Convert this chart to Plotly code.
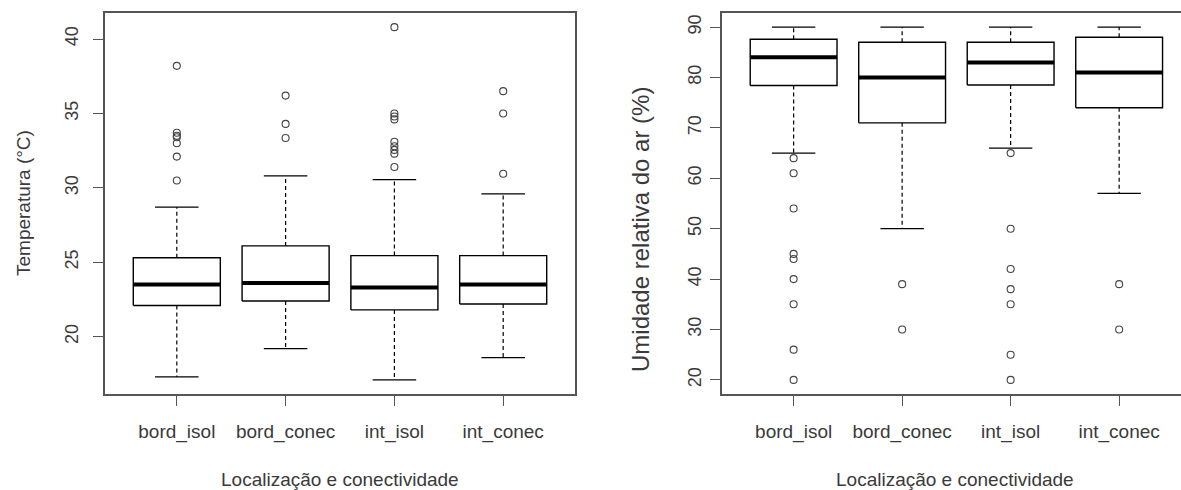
import plotly.graph_objects as go

# ---------------- data ----------------
categories = ["bord_isol", "bord_conec", "int_isol", "int_conec"]

temp_lower = [17.3, 19.2, 17.1, 18.6]
temp_q1 = [22.1, 22.4, 21.8, 22.2]
temp_median = [23.5, 23.6, 23.3, 23.5]
temp_q3 = [25.3, 26.1, 25.45, 25.45]
temp_upper = [28.7, 30.8, 30.55, 29.6]
temp_outliers = [
    [38.2, 33.7, 33.5, 33.4, 33.0, 32.1, 30.5],
    [36.2, 34.3, 33.35],
    [40.8, 35.0, 34.8, 34.6, 33.1, 32.8, 32.55, 32.3, 31.4],
    [36.5, 35.0, 30.95],
]

hum_lower = [65, 50, 66, 57]
hum_q1 = [78.4, 71, 78.5, 74]
hum_median = [84, 80, 83, 81]
hum_q3 = [87.6, 87, 87, 88]
hum_upper = [90, 90, 90, 90]
hum_outliers = [
    [64, 61, 54, 45, 44, 40, 35, 26, 20],
    [39, 30],
    [65, 50, 42, 38, 35, 25, 20],
    [39, 30],
]

temp_ticks = [20, 25, 30, 35, 40]
hum_ticks = [20, 30, 40, 50, 60, 70, 80, 90]

temp_title = "Temperatura (°C)"
hum_title = "Umidade relativa do ar (%)"
x_title = "Localização e conectividade"

# ---------------- styling ----------------
W, H = 1181, 490
FONT = "Liberation Sans, Arial, sans-serif"
TXT = "#3a3a3a"
HALF = 0.4      # half box width (R default 0.8 width)
STAPLE = 0.2    # half staple width

fig = go.Figure()


def add_panel(xref, yref, lower, q1, med, q3, upper, outs):
    for i in range(len(categories)):
        x = i + 1
        # whiskers (dashed)
        fig.add_trace(go.Scatter(
            x=[x, x, None, x, x], y=[q3[i], upper[i], None, q1[i], lower[i]],
            mode="lines", line=dict(color="black", width=1.2, dash="4px,3px"),
            xaxis=xref, yaxis=yref, showlegend=False, hoverinfo="skip"))
        # staples
        fig.add_trace(go.Scatter(
            x=[x - STAPLE, x + STAPLE, None, x - STAPLE, x + STAPLE],
            y=[upper[i], upper[i], None, lower[i], lower[i]],
            mode="lines", line=dict(color="black", width=1.3),
            xaxis=xref, yaxis=yref, showlegend=False, hoverinfo="skip"))
        # box
        fig.add_trace(go.Scatter(
            x=[x - HALF, x + HALF, x + HALF, x - HALF, x - HALF],
            y=[q1[i], q1[i], q3[i], q3[i], q1[i]],
            mode="lines", line=dict(color="black", width=1.4),
            xaxis=xref, yaxis=yref, showlegend=False, hoverinfo="skip"))
        # median
        fig.add_trace(go.Scatter(
            x=[x - HALF, x + HALF], y=[med[i], med[i]],
            mode="lines", line=dict(color="black", width=4),
            xaxis=xref, yaxis=yref, showlegend=False, hoverinfo="skip"))
        # outliers
        fig.add_trace(go.Scatter(
            x=[x] * len(outs[i]), y=outs[i], mode="markers",
            marker=dict(symbol="circle-open", size=7, color="#444444",
                        line=dict(width=1.1)),
            xaxis=xref, yaxis=yref, showlegend=False, hoverinfo="skip"))


add_panel("x", "y", temp_lower, temp_q1, temp_median, temp_q3, temp_upper, temp_outliers)
add_panel("x2", "y2", hum_lower, hum_q1, hum_median, hum_q3, hum_upper, hum_outliers)

y_dom = [(H - 394) / H, (H - 13) / H]

xaxis_common = dict(
    tickmode="array", tickvals=[1, 2, 3, 4], ticktext=categories,
    ticks="outside", ticklen=10, tickwidth=1.2, tickcolor="#555555",
    showline=True, linecolor="#555555", linewidth=1.5,
    showgrid=False, zeroline=False, fixedrange=True,
    tickfont=dict(family=FONT, size=19, color=TXT),
    ticklabelstandoff=9,
)
yaxis_common = dict(
    ticks="outside", ticklen=10, tickwidth=1.2, tickcolor="#555555",
    showline=True, linecolor="#555555", linewidth=1.5,
    showgrid=False, zeroline=False, fixedrange=True, tickangle=-90,
    tickfont=dict(family=FONT, size=18, color=TXT),
    domain=y_dom,
)

fig.update_layout(
    width=W, height=H,
    margin=dict(l=0, r=0, t=0, b=0),
    paper_bgcolor="white", plot_bgcolor="white",
    font=dict(family=FONT, color=TXT),
    xaxis=dict(xaxis_common, domain=[105 / W, 575 / W], range=[0.34, 4.66],
               mirror=True, anchor="y"),
    yaxis=dict(yaxis_common, range=[16.15, 41.75], tickmode="array",
               tickvals=temp_ticks, mirror=True, anchor="x", ticklabelstandoff=8),
    xaxis2=dict(xaxis_common, domain=[722 / W, 1.0], range=[0.34, 4.57],
                mirror=True, anchor="y2"),
    yaxis2=dict(yaxis_common, range=[17.2, 92.8], tickmode="array",
                tickvals=hum_ticks, mirror=False, anchor="x2", ticklabelstandoff=2),
    annotations=[
        dict(text=temp_title, x=23 / W, y=(H - 203) / H, xref="paper", yref="paper",
             textangle=-90, showarrow=False, xanchor="center", yanchor="middle",
             font=dict(family=FONT, size=19, color=TXT)),
        dict(text=hum_title, x=641 / W, y=(H - 230) / H, xref="paper", yref="paper",
             textangle=-90, showarrow=False, xanchor="center", yanchor="middle",
             font=dict(family=FONT, size=24, color=TXT)),
        dict(text=x_title, x=340 / W, y=(H - 479) / H, xref="paper", yref="paper",
             showarrow=False, xanchor="center", yanchor="middle",
             font=dict(family=FONT, size=19, color=TXT)),
        dict(text=x_title, x=955 / W, y=(H - 479) / H, xref="paper", yref="paper",
             showarrow=False, xanchor="center", yanchor="middle",
             font=dict(family=FONT, size=19, color=TXT)),
    ],
)

fig.write_html("out.html")
